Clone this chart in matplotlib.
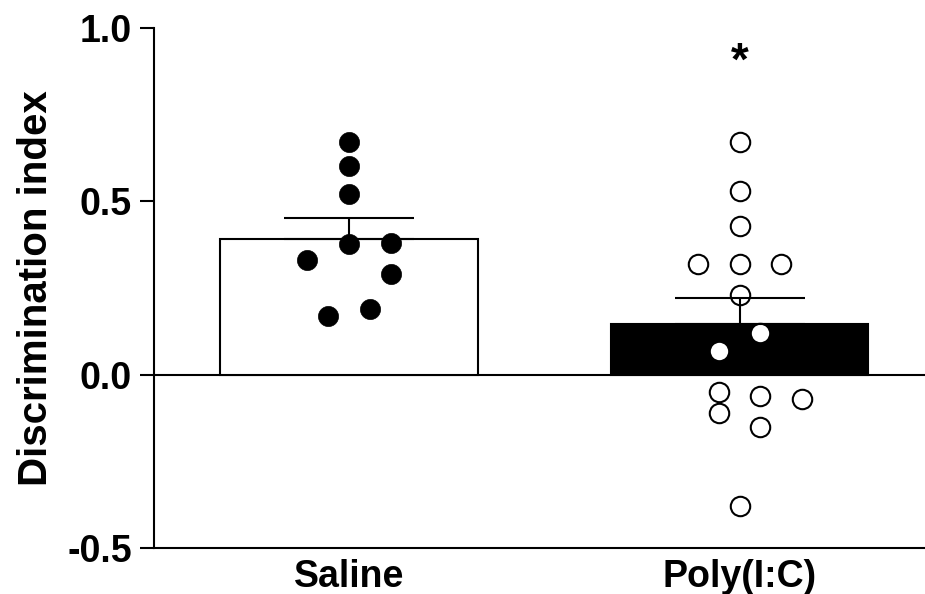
import numpy as np
import matplotlib
matplotlib.use("Agg")
import matplotlib.pyplot as plt

plt.rcParams['font.family'] = ['Liberation Sans', 'DejaVu Sans']
plt.rcParams['font.weight'] = 'bold'

groups = ['Saline', 'Poly(I:C)']

# discrimination index for each animal
saline = [0.669, 0.600, 0.521, 0.377, 0.380, 0.329, 0.290, 0.189, 0.170]
polyic = [0.669, 0.530, 0.429, 0.319, 0.319, 0.319, 0.230, 0.120, 0.069,
          -0.051, -0.063, -0.070, -0.111, -0.152, -0.378]

# column slot of each dot in the scatter (so dots don't overlap)
saline_slot = [0, 0, 0, 0, 2, -2, 2, 1, -1]
polyic_slot = [0, 0, 0, -2, 0, 2, 0, 1, -1, -1, 1, 3, -1, 1, 0]

y_ticks = [-0.5, 0.0, 0.5, 1.0]


def mean_sem(v):
    v = np.asarray(v)
    return v.mean(), v.std(ddof=1) / np.sqrt(len(v))


fig = plt.figure(figsize=(9.25, 5.94), dpi=100)
ax = fig.add_axes([0.1665, 0.0774, 0.8335, 0.8763])

lw = 1.5
step = 0.0533
x = np.arange(len(groups))

means = []
sems = []
for v in (saline, polyic):
    m, s = mean_sem(v)
    means.append(m)
    sems.append(s)

ax.axhline(0, color='black', lw=lw, zorder=1)
ax.bar(x, means, width=0.66, color=['white', 'black'], edgecolor='black',
       linewidth=lw, zorder=2)

# individual animals
ax.plot(x[0] + step * np.array(saline_slot), saline, 'o', ms=14.5,
        mfc='black', mec='black', mew=0.5, zorder=3)
ax.plot(x[1] + step * np.array(polyic_slot), polyic, 'o', ms=14,
        mfc='white', mec='black', mew=1.5, zorder=3)

# one-sided SEM
ax.errorbar(x, means, yerr=[np.zeros(2), sems], fmt='none', ecolor='black',
            elinewidth=lw, capsize=47, capthick=lw, zorder=4)

ax.text(x[1], 0.865, '*', ha='center', va='baseline', fontsize=33,
        fontweight='bold')

ax.set_xlim(-0.4994, 1.475)
ax.set_ylim(-0.5, 1.0)
ax.set_yticks(y_ticks)
ax.set_yticklabels(['%.1f' % t for t in y_ticks])
ax.set_xticks(x)
ax.set_xticklabels(groups)
ax.tick_params(axis='x', length=0, pad=8, labelsize=27)
ax.tick_params(axis='y', length=10, width=lw, pad=6, labelsize=27)
ax.set_ylabel('Discrimination index', fontsize=29, fontweight='bold',
              labelpad=9)

for side in ('top', 'right'):
    ax.spines[side].set_visible(False)
for side in ('left', 'bottom'):
    ax.spines[side].set_linewidth(lw)

fig.savefig('out.png', dpi=100)
